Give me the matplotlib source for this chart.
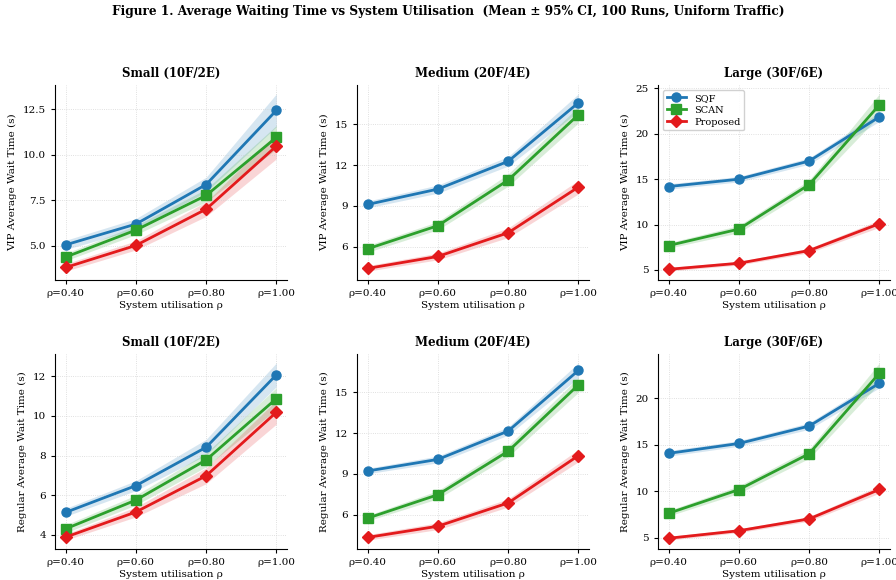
import matplotlib
matplotlib.use("Agg")
import matplotlib.pyplot as plt
import numpy as np

plt.rcParams['font.family'] = ['DejaVu Serif']

rho = [0.40, 0.60, 0.80, 1.00]
rho_labels = ["ρ=0.40", "ρ=0.60", "ρ=0.80", "ρ=1.00"]
methods = ["SQF", "SCAN", "Proposed"]
sizes = ["Small (10F/2E)", "Medium (20F/4E)", "Large (30F/6E)"]

# VIP average wait time (s): means
vip_small_sqf = [5.05, 6.19, 8.36, 12.43]
vip_small_scan = [4.38, 5.86, 7.76, 10.95]
vip_small_prop = [3.81, 5.02, 7.01, 10.47]
vip_medium_sqf = [9.11, 10.24, 12.28, 16.59]
vip_medium_scan = [5.85, 7.55, 10.90, 15.71]
vip_medium_prop = [4.41, 5.29, 7.03, 10.39]
vip_large_sqf = [14.19, 15.00, 17.00, 21.87]
vip_large_scan = [7.69, 9.50, 14.40, 23.20]
vip_large_prop = [5.07, 5.74, 7.14, 10.10]

# Regular average wait time (s): means
reg_small_sqf = [5.13, 6.48, 8.42, 12.08]
reg_small_scan = [4.30, 5.75, 7.78, 10.88]
reg_small_prop = [3.88, 5.15, 6.98, 10.19]
reg_medium_sqf = [9.22, 10.07, 12.15, 16.60]
reg_medium_scan = [5.76, 7.48, 10.67, 15.54]
reg_medium_prop = [4.35, 5.17, 6.88, 10.35]
reg_large_sqf = [14.07, 15.13, 17.00, 21.60]
reg_large_scan = [7.64, 10.18, 14.03, 22.68]
reg_large_prop = [4.96, 5.77, 7.04, 10.20]

# 95% CI half-widths
ci_vip_small_sqf = [0.25, 0.30, 0.40, 0.90]
ci_vip_small_scan = [0.20, 0.25, 0.35, 0.65]
ci_vip_small_prop = [0.20, 0.25, 0.40, 0.70]
ci_vip_medium_sqf = [0.25, 0.30, 0.35, 0.65]
ci_vip_medium_scan = [0.25, 0.30, 0.45, 0.60]
ci_vip_medium_prop = [0.20, 0.25, 0.35, 0.50]
ci_vip_large_sqf = [0.30, 0.30, 0.35, 0.50]
ci_vip_large_scan = [0.30, 0.40, 0.50, 1.20]
ci_vip_large_prop = [0.20, 0.20, 0.25, 0.40]
ci_reg_small_sqf = [0.20, 0.25, 0.40, 0.60]
ci_reg_small_scan = [0.20, 0.25, 0.35, 0.55]
ci_reg_small_prop = [0.15, 0.25, 0.40, 0.60]
ci_reg_medium_sqf = [0.20, 0.25, 0.30, 0.55]
ci_reg_medium_scan = [0.20, 0.30, 0.40, 0.55]
ci_reg_medium_prop = [0.20, 0.25, 0.30, 0.45]
ci_reg_large_sqf = [0.30, 0.30, 0.35, 0.50]
ci_reg_large_scan = [0.30, 0.40, 0.50, 1.10]
ci_reg_large_prop = [0.20, 0.20, 0.25, 0.40]

means = [
    [[vip_small_sqf, vip_small_scan, vip_small_prop],
     [vip_medium_sqf, vip_medium_scan, vip_medium_prop],
     [vip_large_sqf, vip_large_scan, vip_large_prop]],
    [[reg_small_sqf, reg_small_scan, reg_small_prop],
     [reg_medium_sqf, reg_medium_scan, reg_medium_prop],
     [reg_large_sqf, reg_large_scan, reg_large_prop]],
]
cis = [
    [[ci_vip_small_sqf, ci_vip_small_scan, ci_vip_small_prop],
     [ci_vip_medium_sqf, ci_vip_medium_scan, ci_vip_medium_prop],
     [ci_vip_large_sqf, ci_vip_large_scan, ci_vip_large_prop]],
    [[ci_reg_small_sqf, ci_reg_small_scan, ci_reg_small_prop],
     [ci_reg_medium_sqf, ci_reg_medium_scan, ci_reg_medium_prop],
     [ci_reg_large_sqf, ci_reg_large_scan, ci_reg_large_prop]],
]
ylabels = ["VIP Average Wait Time (s)", "Regular Average Wait Time (s)"]
colors = ["#1f77b4", "#2ca02c", "#e31a1c"]
markers = ["o", "s", "D"]
msizes = [6.5, 6.5, 6]

W, H = 896, 580
fig = plt.figure(figsize=(W / 100, H / 100), dpi=100)
fig.suptitle("Figure 1. Average Waiting Time vs System Utilisation  (Mean ± 95% CI, 100 Runs, Uniform Traffic)",
             fontsize=8.7, fontweight="bold", y=1 - 12 / H, va="center")

lefts = [55, 357, 658]
bottoms = [280, 549]
aw, ah = 232, 195

x = np.array(rho)
for r in range(2):
    for c in range(3):
        ax = fig.add_axes([lefts[c] / W, 1 - bottoms[r] / H, aw / W, ah / H])
        for m in range(3):
            y = np.array(means[r][c][m])
            e = np.array(cis[r][c][m])
            ax.fill_between(x, y - e, y + e, color=colors[m], alpha=0.18, linewidth=0)
            ax.plot(x, y, color=colors[m], marker=markers[m], markersize=msizes[m],
                    linewidth=2, label=methods[m])
        ax.set_xticks(x)
        ax.set_xticklabels(rho_labels)
        ax.set_title(sizes[c], fontsize=8.5, fontweight="bold", pad=6)
        ax.set_ylabel(ylabels[r], fontsize=7.5)
        ax.set_xlabel("System utilisation ρ", fontsize=7.5, labelpad=2)
        ax.tick_params(labelsize=7.5, length=3)
        ax.grid(True, linestyle=":", linewidth=0.6, color="#cccccc", alpha=0.8)
        ax.spines["top"].set_visible(False)
        ax.spines["right"].set_visible(False)
        ax.yaxis.set_major_locator(matplotlib.ticker.MaxNLocator(nbins=5, steps=[1, 2, 2.5, 3, 5, 10]))
        if r == 0 and c == 2:
            ax.legend(loc="upper left", fontsize=7, frameon=True, framealpha=0.9,
                      handlelength=2, borderpad=0.4, labelspacing=0.3)

fig.savefig("out.png", dpi=100)
